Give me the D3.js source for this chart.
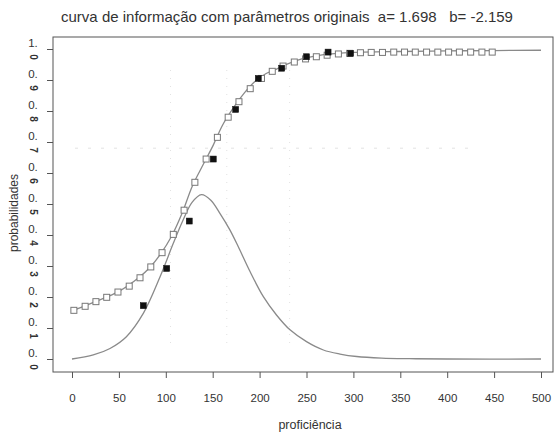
<!DOCTYPE html>
<html>
<head>
<meta charset="utf-8" />
<title>curva de informação</title>
<style>
html, body {
    padding: 0px;
    margin: 0px;
    background: #fff;
}
svg text {
    font-family: "Liberation Sans", Arial, sans-serif;
    fill: #333;
}
</style>
</head>
<body>
<div id="chart"></div>
<script src="https://cdnjs.cloudflare.com/ajax/libs/d3/7.8.5/d3.min.js"></script>
<script>
// valores
var xTicks = [0, 50, 100, 150, 200, 250, 300, 350, 400, 450, 500];
var yTicks = [0, 0.1, 0.2, 0.3, 0.4, 0.5, 0.6, 0.7, 0.8, 0.9, 1.0];
var yTickLabels = ["0.0", "0.1", "0.2", "0.3", "0.4", "0.5", "0.6", "0.7", "0.8", "0.9", "1.0"];

// curva característica do item (linha)
var iccX = [0, 25, 50, 71, 83, 94.5, 106, 118, 128, 140, 150.6, 160.6, 172, 184, 195, 207, 218, 230, 245, 260, 280, 300, 350, 400, 450, 500];
var iccY = [0.155, 0.185, 0.218, 0.262, 0.295, 0.339, 0.395, 0.475, 0.556, 0.628, 0.69, 0.755, 0.81, 0.859, 0.895, 0.921, 0.935, 0.952, 0.968, 0.978, 0.985, 0.989, 0.992, 0.994, 0.995, 0.996];

// quadrados abertos sobre a curva
var openX = [2, 14, 25.5, 37, 49, 61, 72.5, 84, 96, 108, 119.5, 131, 143, 155, 166.5, 178, 190, 202, 213.5, 225, 237, 249, 260.5, 272, 284, 296, 307.5, 319, 331, 343, 354.5, 366, 378, 390, 401.5, 413, 425, 437, 448];
var openY = [0.157, 0.17, 0.185, 0.199, 0.216, 0.235, 0.262, 0.297, 0.343, 0.402, 0.48, 0.57, 0.645, 0.715, 0.78, 0.83, 0.872, 0.905, 0.928, 0.945, 0.958, 0.968, 0.975, 0.98, 0.984, 0.986, 0.988, 0.989, 0.989, 0.99, 0.99, 0.99, 0.99, 0.99, 0.99, 0.99, 0.99, 0.99, 0.99];

// proporções empíricas (quadrados cheios)
var obsX = [76, 101, 125, 150.6, 174.5, 198.6, 223.6, 250, 273, 297];
var obsY = [0.172, 0.292, 0.445, 0.645, 0.805, 0.905, 0.938, 0.975, 0.99, 0.986];

// curva de informação
var infoX = [0, 22.7, 40.5, 58, 76, 94, 108, 118, 128, 138, 148, 158, 168, 177.3, 189.8, 204, 218, 232.4, 250, 268, 285.7, 303.5, 330, 360, 400, 500];
var infoY = [0.0, 0.013, 0.034, 0.072, 0.147, 0.266, 0.373, 0.445, 0.505, 0.53, 0.512, 0.468, 0.418, 0.362, 0.282, 0.201, 0.142, 0.094, 0.056, 0.029, 0.016, 0.008, 0.003, 0.001, 0.0, 0.0];

// linhas pontilhadas fracas (fundo)
var gridX = [105, 165, 232];
var gridY = [0.68];

!(function(){
    "use strict"

    var W = 558, H = 432;
    var box = {left: 53, right: 553, top: 37, bottom: 372};

    var svg = d3.select("#chart").append("svg")
        .attr("width", W)
        .attr("height", H);

    var x = d3.scaleLinear().domain([0, 500]).range([72, 541]);
    var y = d3.scaleLinear().domain([0, 1]).range([359, 49]);

    // grade fraca
    svg.selectAll(".gx").data(gridX).enter().append("line")
        .attr("x1", d => x(d)).attr("x2", d => x(d))
        .attr("y1", 70).attr("y2", 350)
        .attr("stroke", "#e2e2e2").attr("stroke-width", 1)
        .attr("stroke-dasharray", "1 7");
    svg.selectAll(".gy").data(gridY).enter().append("line")
        .attr("x1", 75).attr("x2", 470)
        .attr("y1", d => y(d)).attr("y2", d => y(d))
        .attr("stroke", "#e2e2e2").attr("stroke-width", 1)
        .attr("stroke-dasharray", "3 10");

    // caixa
    svg.append("rect")
        .attr("x", box.left).attr("y", box.top)
        .attr("width", box.right - box.left)
        .attr("height", box.bottom - box.top)
        .attr("fill", "none").attr("stroke", "#555").attr("stroke-width", 1);

    // eixo x
    var xAxis = svg.append("g")
        .attr("transform", "translate(0," + box.bottom + ")")
        .call(d3.axisBottom(x).tickValues(xTicks).tickSize(6).tickPadding(16));
    xAxis.select(".domain").remove();
    xAxis.selectAll("line").attr("stroke", "#555");
    xAxis.selectAll("text").attr("font-size", 11.5).attr("fill", "#333")
        .style("font-family", "'Liberation Sans', Arial, sans-serif");

    // eixo y
    var yAxis = svg.append("g")
        .attr("transform", "translate(" + box.left + ",0)")
        .call(d3.axisLeft(y).tickValues(yTicks).tickSize(6).tickFormat(""));
    yAxis.select(".domain").remove();
    yAxis.selectAll("line").attr("stroke", "#555");

    var yl = svg.selectAll(".ylab").data(yTicks).enter().append("g")
        .attr("transform", d => "translate(33," + y(d) + ")");
    yl.append("text")
        .attr("x", 0).attr("y", -2)
        .attr("text-anchor", "middle")
        .attr("font-size", 11.5)
        .text((d, i) => yTickLabels[i].slice(0, 2));
    yl.append("text")
        .attr("transform", "translate(0,8) rotate(90)")
        .attr("text-anchor", "middle")
        .attr("dy", "0.35em")
        .attr("font-size", 10)
        .attr("font-weight", "bold")
        .text((d, i) => yTickLabels[i].slice(2));

    // títulos
    svg.append("text")
        .attr("x", 287).attr("y", 22)
        .attr("text-anchor", "middle")
        .attr("font-size", 15)
        .attr("fill", "#222")
        .attr("xml:space", "preserve")
        .text("curva de informação com parâmetros originais  a= 1.698   b= -2.159");

    svg.append("text")
        .attr("x", 310).attr("y", 429)
        .attr("text-anchor", "middle")
        .attr("font-size", 12.5)
        .text("proficiência");

    svg.append("text")
        .attr("transform", "translate(18,213) rotate(-90)")
        .attr("text-anchor", "middle")
        .attr("font-size", 12)
        .text("probabilidades");

    // curvas
    var line = d3.line()
        .x(d => x(d[0]))
        .y(d => y(d[1]))
        .curve(d3.curveCatmullRom.alpha(0.5));

    svg.append("path")
        .datum(iccX.map((v, i) => [v, iccY[i]]))
        .attr("d", line)
        .attr("fill", "none").attr("stroke", "#8a8a8a").attr("stroke-width", 1.3);

    svg.append("path")
        .datum(infoX.map((v, i) => [v, infoY[i]]))
        .attr("d", line)
        .attr("fill", "none").attr("stroke", "#8a8a8a").attr("stroke-width", 1.3);

    // quadrados abertos
    var s = 6;
    svg.selectAll(".open").data(openX.map((v, i) => [v, openY[i]])).enter().append("rect")
        .attr("x", d => x(d[0]) - s / 2)
        .attr("y", d => y(d[1]) - s / 2)
        .attr("width", s).attr("height", s)
        .attr("fill", "#fff").attr("stroke", "#777").attr("stroke-width", 1);

    // quadrados cheios
    svg.selectAll(".obs").data(obsX.map((v, i) => [v, obsY[i]])).enter().append("rect")
        .attr("x", d => x(d[0]) - s / 2)
        .attr("y", d => y(d[1]) - s / 2)
        .attr("width", s).attr("height", s)
        .attr("fill", "#111").attr("stroke", "#111").attr("stroke-width", 0.5);

}());
</script>
</body>
</html>
